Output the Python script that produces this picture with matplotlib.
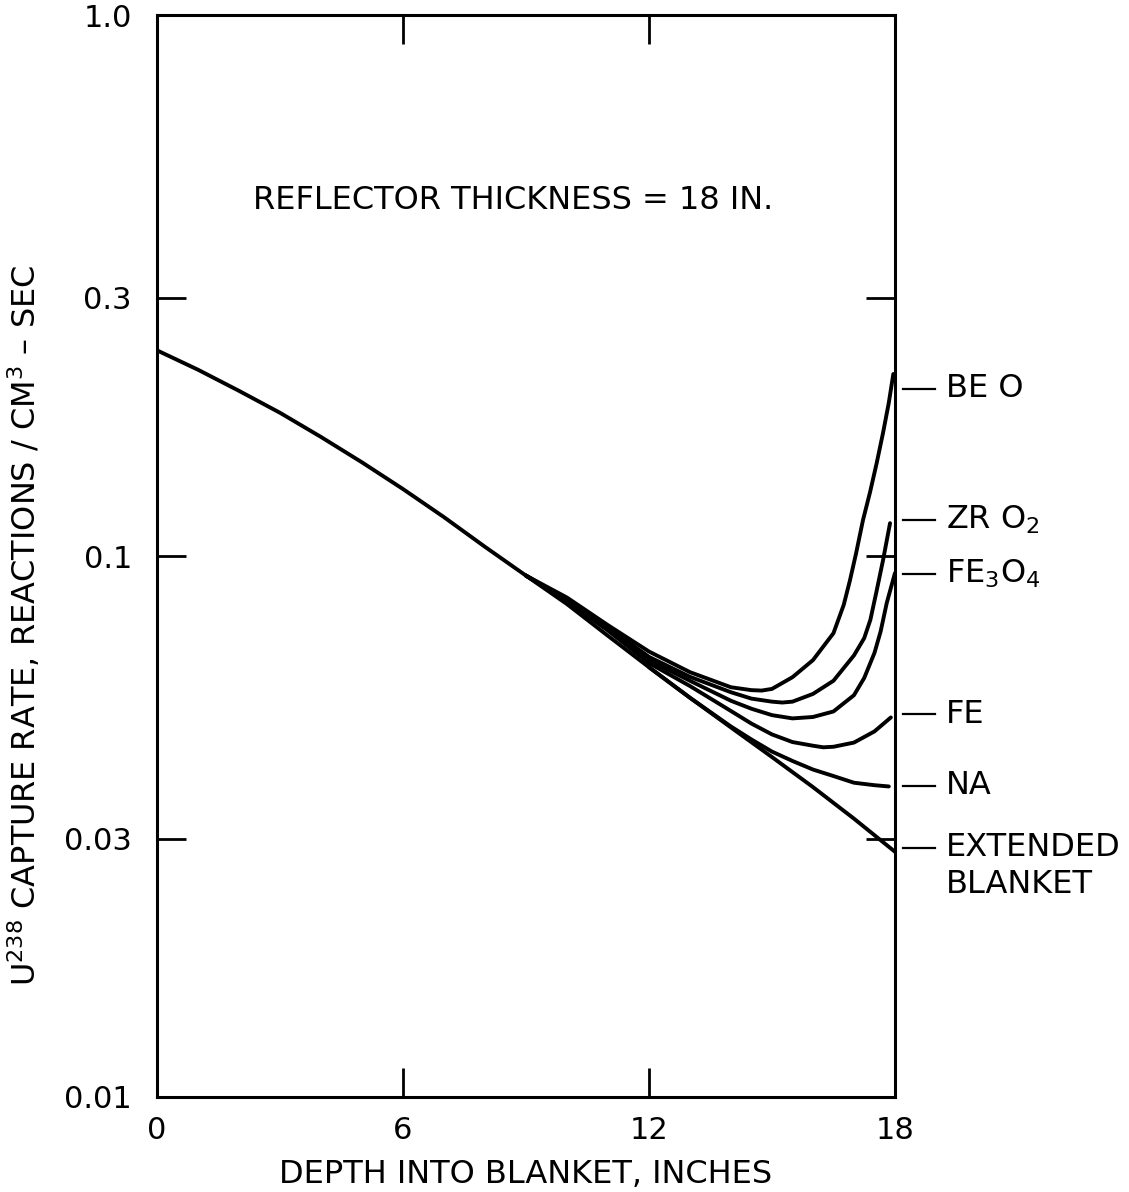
import matplotlib.pyplot as plt

# === data (depth in inches, capture rate) ===
depth_common = [0, 1, 2, 3, 4, 5, 6, 7, 8, 9]
rate_common = [0.240, 0.221, 0.202, 0.184, 0.166, 0.149, 0.133, 0.118, 0.104, 0.092]

depth_ext = [9, 10, 11, 12, 13, 14, 15, 16, 17, 18]
rate_ext = [0.092, 0.0815, 0.0712, 0.0623, 0.0547, 0.0482, 0.0425, 0.0374, 0.0327, 0.0284]

depth_na = [12, 13, 14, 14.5, 15, 15.5, 16, 16.5, 17, 17.5, 17.85]
rate_na = [0.0623, 0.0547, 0.0484, 0.0458, 0.0435, 0.0418, 0.0403, 0.0392, 0.0381, 0.0377, 0.0375]

depth_fe = [9, 10, 11, 12, 13, 14, 14.5, 15, 15.5, 16, 16.25, 16.5, 17, 17.5, 17.9]
rate_fe = [0.092, 0.0825, 0.0728, 0.0634, 0.0575, 0.0517, 0.049, 0.0468, 0.0453, 0.0446,
           0.0443, 0.0444, 0.0452, 0.0474, 0.0503]

depth_fe3o4 = [9, 10, 11, 12, 13, 14, 14.5, 15, 15.5, 16, 16.5, 17, 17.25, 17.5, 17.65, 17.8, 18]
rate_fe3o4 = [0.092, 0.0828, 0.0732, 0.0642, 0.0588, 0.054, 0.0522, 0.0508, 0.0501, 0.0504,
              0.0516, 0.0553, 0.0595, 0.0662, 0.0725, 0.0819, 0.093]

depth_zro2 = [9, 10, 11, 12, 13, 14, 14.5, 15, 15.25, 15.5, 16, 16.5, 17, 17.25, 17.4, 17.55, 17.71, 17.88]
rate_zro2 = [0.092, 0.0832, 0.0738, 0.0651, 0.0598, 0.056, 0.0545, 0.0538, 0.0536, 0.0538,
             0.0556, 0.0588, 0.0655, 0.0705, 0.0762, 0.086, 0.0983, 0.115]

depth_beo = [9, 10, 11, 12, 13, 14, 14.5, 14.75, 15, 15.5, 16, 16.5, 16.75, 16.9, 17.05,
             17.22, 17.39, 17.55, 17.71, 17.85, 17.96]
rate_beo = [0.092, 0.0838, 0.0745, 0.0666, 0.061, 0.0572, 0.0565, 0.0564, 0.0568, 0.0597,
            0.0642, 0.072, 0.0812, 0.090, 0.101, 0.1165, 0.131, 0.148, 0.169, 0.192, 0.217]

labels = ["BE O", "ZR O$_2$", "FE$_3$O$_4$", "FE", "NA", "EXTENDED"]
label_y = [0.204, 0.1165, 0.0926, 0.051, 0.0376, 0.0289]

x_ticks = [0, 6, 12, 18]
y_ticks = [0.01, 0.03, 0.1, 0.3, 1.0]
y_tick_labels = ["0.01", "0.03", "0.1", "0.3", "1.0"]

# === figure ===
fig = plt.figure(figsize=(11.29, 11.92), dpi=100)
ax = fig.add_axes([0.139, 0.0797, 0.6537, 0.9077])

lw = 2.8
ax.plot(depth_common, rate_common, color="black", lw=lw, solid_capstyle="round")
for d, r in [(depth_ext, rate_ext), (depth_na, rate_na), (depth_fe, rate_fe),
             (depth_fe3o4, rate_fe3o4), (depth_zro2, rate_zro2), (depth_beo, rate_beo)]:
    ax.plot(d, r, color="black", lw=lw, solid_capstyle="round", solid_joinstyle="round")

ax.set_yscale("log")
ax.set_xlim(0, 18)
ax.set_ylim(0.01, 1.0)

ax.set_xticks(x_ticks)
ax.set_xticklabels([str(t) for t in x_ticks])
ax.set_yticks(y_ticks)
ax.set_yticklabels(y_tick_labels)
ax.minorticks_off()

ax.tick_params(axis="both", which="major", direction="in", length=21, width=2,
               labelsize=22, top=True, right=True)
ax.tick_params(axis="x", pad=14)
ax.tick_params(axis="y", pad=18)
# no tick marks at the corners
for t in ax.xaxis.get_major_ticks():
    if t.get_loc() in (0, 18):
        t.tick1line.set_visible(False)
        t.tick2line.set_visible(False)
for t in ax.yaxis.get_major_ticks():
    if t.get_loc() in (0.01, 1.0):
        t.tick1line.set_visible(False)
        t.tick2line.set_visible(False)

for s in ax.spines.values():
    s.set_linewidth(2.2)

ax.set_xlabel("DEPTH INTO BLANKET, INCHES", fontsize=23, labelpad=10)
fig.text(0.022, 0.475, "U$^{238}$ CAPTURE RATE, REACTIONS / CM$^3$ – SEC",
         rotation=90, fontsize=23, ha="center", va="center")

ax.text(2.35, 0.455, "REFLECTOR THICKNESS = 18 IN.", fontsize=23, ha="left", va="center")

# curve labels on the right
for lab, yv in zip(labels, label_y):
    ax.plot([18.2, 18.98], [yv, yv], color="black", lw=1.6, clip_on=False)
    ax.text(19.25, yv, lab, fontsize=23, ha="left", va="center", clip_on=False)
ax.text(19.25, label_y[-1] * 0.855, "BLANKET", fontsize=23, ha="left", va="center", clip_on=False)

plt.savefig("out.png", dpi=100)
